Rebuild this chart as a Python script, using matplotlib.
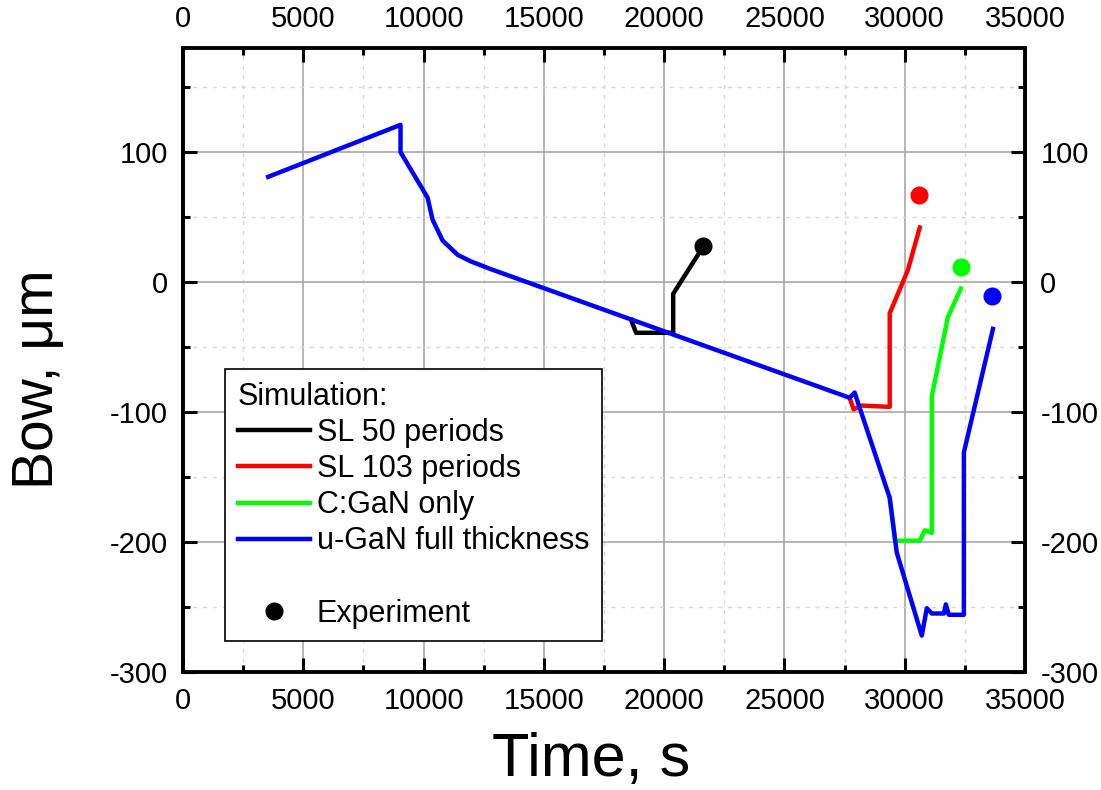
import matplotlib.pyplot as plt
from matplotlib.lines import Line2D
from matplotlib.ticker import MultipleLocator, FixedLocator

plt.rcParams['font.family'] = ['Liberation Sans', 'DejaVu Sans']
plt.rcParams['axes.unicode_minus'] = False

# simulated bow curves (time in s, bow in um)
sl50_t = [18625, 18833, 20375, 20375, 21542]
sl50_bow = [-29, -39, -39, -9, 25]

sl103_t = [27708, 27875, 28208, 29375, 29375, 30125, 30625]
sl103_bow = [-89, -98, -95, -96, -24, 9, 42]

cgan_t = [29375, 29600, 30625, 30833, 31125, 31125, 31792, 32333]
cgan_bow = [-166, -199, -199, -191, -193, -88, -27, -5]

ugan_t = [3540, 9042, 9042, 10167, 10375, 10790, 11417, 11958, 12790, 27708,
          27917, 29375, 29667, 30708, 30917, 31125, 31625, 31708, 31833,
          32458, 32458, 33667]
ugan_bow = [81, 121, 100, 65, 48, 32, 21, 16, 10, -89,
            -85, -166, -208, -272, -251, -255, -255, -248, -256,
            -256, -131, -36]

# experimental end points
exp_t = [21625, 30583, 32333, 33625]
exp_bow = [28, 67, 12, -11]

series_labels = ['SL 50 periods', 'SL 103 periods', 'C:GaN only', 'u-GaN full thickness']
colors = ['black', '#ff0000', '#00ff00', '#0000ff']

fig = plt.figure(figsize=(11.01, 7.9), dpi=100)
ax = fig.add_axes([0.1662, 0.1494, 0.7648, 0.7896])

lw = 3.2
ax.plot(sl50_t, sl50_bow, color=colors[0], lw=lw, zorder=3)
ax.plot(sl103_t, sl103_bow, color=colors[1], lw=lw, zorder=3)
ax.plot(cgan_t, cgan_bow, color=colors[2], lw=lw, zorder=3)
ax.plot(ugan_t, ugan_bow, color=colors[3], lw=lw, zorder=4)
for t, b, c in zip(exp_t, exp_bow, colors):
    ax.plot(t, b, 'o', color=c, ms=12, zorder=5)

ax.set_xlim(0, 35000)
ax.set_ylim(-300, 180)
ax.xaxis.set_major_locator(MultipleLocator(5000))
ax.xaxis.set_minor_locator(MultipleLocator(2500))
ax.yaxis.set_major_locator(FixedLocator([-300, -200, -100, 0, 100]))
ax.yaxis.set_minor_locator(FixedLocator([-250, -150, -50, 50, 150]))

ax.grid(which='major', color='#a8a8a8', lw=1.2, ls='-', zorder=0)
ax.grid(which='minor', color='#d8d8d8', lw=1.0, ls=(0, (3, 4)), zorder=0)
ax.set_axisbelow(True)

for s in ax.spines.values():
    s.set_linewidth(2.8)
ax.tick_params(which='both', direction='in', top=True, right=True,
               labeltop=True, labelright=True, labelsize=21, pad=11)
ax.tick_params(which='major', length=10, width=2.2)
ax.tick_params(which='minor', length=5, width=2.2)

ax.set_xlabel('Time, s', fontsize=44)
ax.set_ylabel('Bow, μm', fontsize=41)
ax.xaxis.set_label_coords(0.485, -0.096)
ax.yaxis.set_label_coords(-0.14, 0.47)

handles = [Line2D([], [], color=c, lw=lw) for c in colors]
handles.append(Line2D([], [], ls='none'))
handles.append(Line2D([], [], ls='none', marker='o', color='black', ms=12))
labels = series_labels + [' ', 'Experiment']
leg = ax.legend(handles, labels, title='Simulation:', alignment='left',
                loc='lower left', bbox_to_anchor=(0.05, 0.049), borderaxespad=0,
                fontsize=22, title_fontsize=22, frameon=True, fancybox=False,
                edgecolor='black', framealpha=1, handlelength=2.35,
                handletextpad=0.23, labelspacing=0.2, borderpad=0.42)
leg.get_frame().set_linewidth(1.2)
leg.set_zorder(6)

fig.savefig('out.png', dpi=100)
